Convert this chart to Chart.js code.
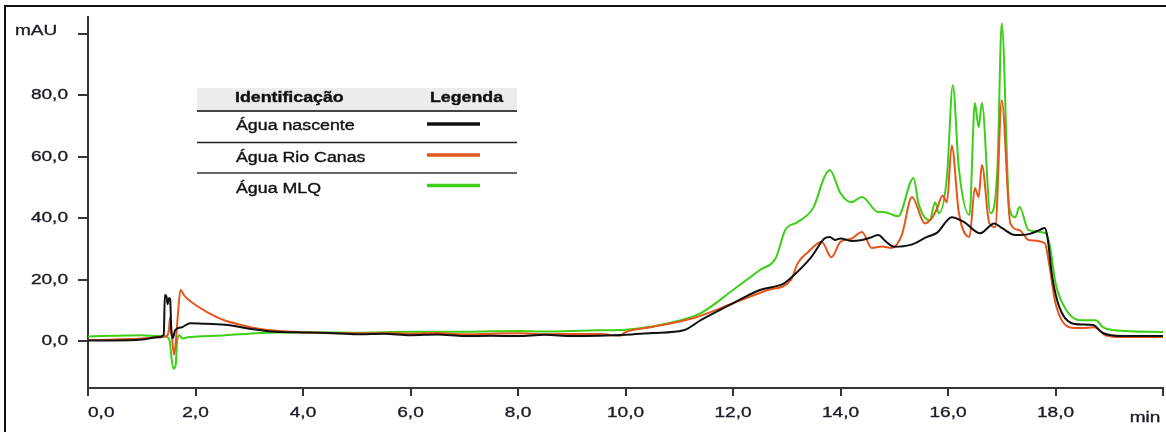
<!DOCTYPE html>
<html>
<head>
<meta charset="utf-8">
<script src="https://cdn.jsdelivr.net/npm/chart.js@4"></script>
<style>
  html, body { margin: 0; padding: 0; background: #fff; }
  #wrap { width: 1166px; height: 432px; position: relative; }
</style>
</head>
<body>
<div id="wrap"><canvas id="chrom"></canvas></div>
<script>
// retention time (min) and absorbance (mAU)
const tNascente = [0, 0.5, 1.0, 1.3, 1.41, 1.43, 1.46, 1.48, 1.51, 1.53, 1.55, 1.58, 1.62, 1.75, 1.9, 2.2, 2.6, 3.0, 3.5, 4.0, 4.5, 5.0, 5.5, 6.0, 6.5, 7.0, 7.5, 8.0, 8.5, 9.0, 9.5, 10.0, 10.5, 11.08, 11.4, 12.0, 12.5, 12.95, 13.1, 13.46, 13.7, 13.8, 13.9, 14.0, 14.2, 14.4, 14.55, 14.7, 14.85, 15.0, 15.3, 15.6, 15.8, 16.07, 16.3, 16.6, 16.86, 17.0, 17.25, 17.5, 17.7, 17.8, 17.85, 17.94, 18.07, 18.3, 18.5, 18.7, 18.88, 19.25, 20.0];
const vNascente = [0.2, 0.2, 0.5, 1.2, 2.0, 15.0, 14.5, 12.0, 14.0, 13.5, 3.0, 1.0, 3.5, 4.5, 5.8, 5.6, 5.2, 4.0, 3.0, 2.8, 2.6, 2.2, 2.4, 1.9, 2.1, 1.6, 1.7, 1.6, 2.0, 1.6, 1.7, 2.0, 2.6, 3.5, 6.8, 12.3, 16.6, 18.8, 20.9, 27.4, 33.4, 33.9, 32.9, 33.4, 32.6, 32.9, 33.6, 34.5, 32.3, 30.7, 31.3, 33.8, 35.3, 40.3, 38.7, 35.1, 38.3, 36.8, 34.5, 34.8, 36.1, 36.8, 33.8, 20.8, 11.1, 5.8, 5.4, 5.2, 2.6, 1.6, 1.6];

const tRioCanas = [0, 0.5, 1.0, 1.3, 1.45, 1.5, 1.53, 1.56, 1.6, 1.63, 1.67, 1.72, 1.8, 1.93, 2.2, 2.5, 2.85, 3.2, 3.8, 4.4, 5.0, 5.5, 6.0, 6.5, 7.0, 7.5, 8.0, 8.5, 9.0, 9.53, 9.9, 10.0, 10.47, 11.27, 12.0, 12.65, 13.08, 13.2, 13.4, 13.65, 13.83, 14.0, 14.2, 14.4, 14.58, 14.77, 14.95, 15.14, 15.33, 15.57, 15.7, 15.8, 15.9, 15.98, 16.07, 16.2, 16.4, 16.5, 16.57, 16.63, 16.77, 16.88, 17.0, 17.16, 17.33, 17.5, 17.8, 17.88, 18.0, 18.26, 18.5, 18.72, 18.93, 19.25, 20.0];
const vRioCanas = [0.3, 0.5, 0.8, 1.2, 1.5, 3.0, 7.8, 2.0, -4.5, -1.0, 8.0, 16.6, 14.6, 12.6, 9.6, 7.0, 5.2, 3.9, 3.0, 2.6, 2.5, 2.6, 2.4, 2.6, 2.2, 2.4, 2.5, 2.2, 2.3, 2.3, 1.7, 2.9, 4.5, 7.5, 12.3, 16.6, 19.9, 25.2, 29.0, 32.3, 27.3, 32.3, 33.3, 35.5, 30.3, 30.8, 30.3, 34.5, 46.9, 38.3, 40.0, 43.3, 47.4, 45.2, 63.7, 42.0, 33.9, 49.8, 46.9, 57.3, 38.3, 37.1, 78.4, 38.3, 36.1, 32.9, 31.9, 25.2, 12.3, 4.5, 4.2, 4.5, 1.9, 1.3, 1.3];

const tMLQ = [0, 0.5, 1.0, 1.3, 1.45, 1.52, 1.55, 1.59, 1.63, 1.66, 1.7, 1.76, 1.85, 2.5, 3.0, 3.5, 4.0, 5.0, 6.0, 7.0, 8.0, 8.5, 9.0, 9.5, 10.0, 10.8, 11.4, 12.0, 12.5, 12.8, 12.97, 13.2, 13.5, 13.7, 13.8, 14.0, 14.2, 14.4, 14.7, 14.8, 15.07, 15.36, 15.45, 15.66, 15.76, 15.83, 15.98, 16.09, 16.2, 16.4, 16.5, 16.57, 16.63, 16.79, 16.92, 17.0, 17.14, 17.25, 17.33, 17.5, 17.82, 17.9, 18.0, 18.2, 18.45, 18.75, 18.88, 19.1, 20.0];
const vMLQ = [1.5, 1.7, 1.9, 1.6, 1.5, 0.0, -5.0, -9.0, -8.0, 0.3, 1.9, 0.8, 1.2, 1.8, 2.4, 2.8, 2.8, 2.7, 3.0, 3.0, 3.3, 3.1, 3.3, 3.5, 3.7, 5.8, 9.1, 16.6, 23.1, 27.2, 36.1, 38.7, 43.6, 53.4, 55.7, 48.1, 45.2, 46.9, 42.0, 42.0, 40.6, 53.1, 44.9, 39.3, 45.2, 41.6, 53.4, 83.3, 56.5, 41.0, 77.5, 69.6, 77.5, 41.6, 56.5, 103.5, 43.6, 40.3, 43.6, 36.1, 35.1, 30.6, 18.9, 10.1, 6.8, 6.8, 4.5, 3.5, 2.9];

const xTicks = [0, 2, 4, 6, 8, 10, 12, 14, 16, 18, 20];
const xTickLabels = ['0,0', '2,0', '4,0', '6,0', '8,0', '10,0', '12,0', '14,0', '16,0', '18,0', 'min'];
const yTicks = [0, 20, 40, 60, 80, 100];
const yTickLabels = ['0,0', '20,0', '40,0', '60,0', '80,0', 'mAU'];

const seriesNames = ['Água nascente', 'Água Rio Canas', 'Água MLQ'];
const seriesColors = ['#111111', '#e4561d', '#3ccf16'];

const SX = 1.27; // the original print is stretched horizontally
const FONT = '"Liberation Sans", Arial, sans-serif';

function toPoints(ts, vs) {
    return ts.map((t, i) => ({ x: t, y: vs[i] }));
}

function wideText(ctx, str, x, y, align, font, color) {
    ctx.save();
    ctx.font = font;
    ctx.fillStyle = color || '#1b1b28';
    ctx.strokeStyle = color || '#1b1b28';
    ctx.lineWidth = 0.35;
    const w = ctx.measureText(str).width * SX;
    let left = x;
    if (align === 'right') left = x - w;
    if (align === 'center') left = x - w / 2;
    ctx.translate(left, y);
    ctx.scale(SX, 1);
    ctx.textAlign = 'left';
    ctx.textBaseline = 'middle';
    ctx.fillText(str, 0, 0);
    ctx.strokeText(str, 0, 0);
    ctx.restore();
}

// outer frame, tick labels and the little legend table
const decorPlugin = {
    id: 'decor',
    afterDraw(chart) {
        const ctx = chart.ctx;
        const xs = chart.scales.x;
        const ys = chart.scales.y;

        ctx.save();
        ctx.strokeStyle = '#111';
        ctx.lineWidth = 2;
        ctx.strokeRect(5, 6, 1200, 500);
        ctx.restore();

        const tickFont = '15px ' + FONT;
        yTicks.forEach((v, i) => {
            const py = ys.getPixelForValue(v);
            if (yTickLabels[i] === 'mAU') {
                wideText(ctx, 'mAU', 15, py - 3, 'left', tickFont);
            } else {
                wideText(ctx, yTickLabels[i], 68, py, 'right', tickFont);
            }
        });
        xTicks.forEach((v, i) => {
            const px = xs.getPixelForValue(v);
            if (i === 0) {
                wideText(ctx, xTickLabels[i], px, 413, 'left', tickFont);
            } else if (xTickLabels[i] === 'min') {
                wideText(ctx, 'min', px - 18, 418, 'center', tickFont);
            } else {
                wideText(ctx, xTickLabels[i], px, 413, 'center', tickFont);
            }
        });

        // legend table
        ctx.save();
        ctx.fillStyle = '#ececec';
        ctx.fillRect(197, 88, 320, 22);
        ctx.strokeStyle = '#444';
        ctx.lineWidth = 2;
        ctx.beginPath();
        ctx.moveTo(197, 111);
        ctx.lineTo(517, 111);
        ctx.stroke();
        ctx.lineWidth = 1.5;
        ctx.strokeStyle = '#222';
        ctx.beginPath();
        ctx.moveTo(197, 142.5);
        ctx.lineTo(517, 142.5);
        ctx.stroke();
        ctx.strokeStyle = '#666';
        ctx.lineWidth = 2;
        ctx.beginPath();
        ctx.moveTo(197, 173);
        ctx.lineTo(517, 173);
        ctx.stroke();
        ctx.restore();

        wideText(ctx, 'Identificação', 235, 98, 'left', 'bold 14px ' + FONT, '#111');
        wideText(ctx, 'Legenda', 430, 98, 'left', 'bold 14px ' + FONT, '#111');

        const rowY = [126.5, 158, 189];
        const lineY = [124, 155, 185.5];
        seriesNames.forEach((name, i) => {
            wideText(ctx, name, 236, rowY[i], 'left', '14px ' + FONT, '#111');
            ctx.save();
            ctx.strokeStyle = seriesColors[i];
            ctx.lineWidth = 3.5;
            ctx.beginPath();
            ctx.moveTo(427, lineY[i]);
            ctx.lineTo(480, lineY[i]);
            ctx.stroke();
            ctx.restore();
        });
    }
};

const ctx = document.getElementById('chrom').getContext('2d');
new Chart(ctx, {
    type: 'line',
    data: {
        datasets: [
            { label: seriesNames[0], data: toPoints(tNascente, vNascente), borderColor: seriesColors[0] },
            { label: seriesNames[1], data: toPoints(tRioCanas, vRioCanas), borderColor: seriesColors[1] },
            { label: seriesNames[2], data: toPoints(tMLQ, vMLQ), borderColor: seriesColors[2] }
        ].map(d => Object.assign(d, { borderWidth: 2, pointRadius: 0, cubicInterpolationMode: 'monotone', fill: false }))
    },
    options: {
        responsive: true,
        maintainAspectRatio: false,
        animation: false,
        layout: { padding: { left: 78, right: 3, top: 17, bottom: 36 } },
        plugins: { legend: { display: false }, tooltip: { enabled: false } },
        scales: {
            x: {
                type: 'linear',
                min: 0,
                max: 20,
                afterBuildTicks: s => { s.ticks = xTicks.map(v => ({ value: v })); },
                ticks: { display: false },
                grid: { drawOnChartArea: false, drawTicks: true, tickLength: 8, tickColor: '#333', lineWidth: 2 },
                border: { display: true, color: '#333', width: 2 }
            },
            y: {
                type: 'linear',
                min: -15.3,
                max: 105.5,
                afterBuildTicks: s => { s.ticks = yTicks.map(v => ({ value: v })); },
                ticks: { display: false },
                grid: { drawOnChartArea: false, drawTicks: true, tickLength: 10, tickColor: '#333', lineWidth: 2 },
                border: { display: true, color: '#333', width: 2 }
            }
        }
    },
    plugins: [decorPlugin]
});
</script>
</body>
</html>
